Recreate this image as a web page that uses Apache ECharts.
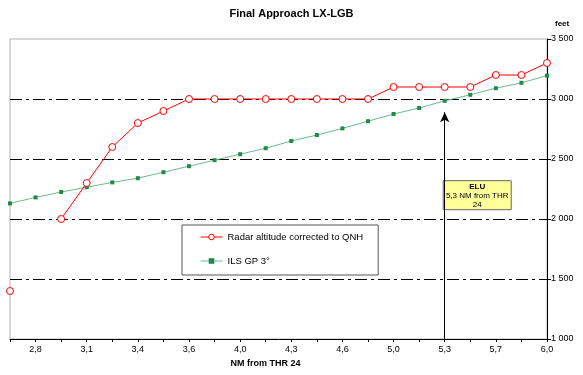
<!DOCTYPE html>
<html>
<head>
<meta charset="utf-8">
<script src="https://cdn.jsdelivr.net/npm/echarts@6/dist/echarts.min.js"></script>
<style>
  html, body { margin: 0; padding: 0; background: #fff; }
  #chart { width: 583px; height: 375px; }
</style>
</head>
<body>
<div id="chart"></div>
<script>
  // distance from threshold (NM), one entry per plotted point
  const distances = ['2,6', '2,8', '2,9', '3,1', '3,2', '3,4', '3,5', '3,6', '3,8', '4,0', '4,1',
    '4,3', '4,5', '4,6', '4,8', '5,0', '5,1', '5,3', '5,5', '5,7', '5,8', '6,0'];

  const radarAlt = [1400, null, 2000, 2300, 2600, 2800, 2900, 3000, 3000, 3000, 3000,
    3000, 3000, 3000, 3000, 3100, 3100, 3100, 3100, 3200, 3200, 3300];

  const ilsGp = [2130, 2180, 2225, 2265, 2305, 2340, 2390, 2440, 2490, 2540, 2590,
    2650, 2700, 2755, 2815, 2875, 2925, 2985, 3035, 3090, 3135, 3195];

  // dash-dot reference lines (the top edge is the plot border)
  const gridLevels = [1500, 2000, 2500, 3000];

  const eluAt = '5,3';
  const eluArrowTop = 2890;
  const eluLines = ['ELU', '5,3 NM from THR', '24'];

  const FONT = 'Liberation Sans, Arial, sans-serif';
  const gridDash = [12, 4, 3, 4];

  const chart = echarts.init(document.getElementById('chart'));

  chart.setOption({
    animation: false,
    backgroundColor: '#fff',
    textStyle: { fontFamily: FONT },
    title: {
      text: 'Final Approach LX-LGB',
      left: 'center',
      top: 3,
      textStyle: { fontSize: 11, fontWeight: 'bold', color: '#000', fontFamily: FONT }
    },
    grid: {
      left: 10, right: 36, top: 39, bottom: 36,
      show: true, borderColor: '#b0b0b0', borderWidth: 1
    },
    legend: {
      orient: 'vertical',
      left: 182, top: 225,
      padding: [7, 15, 9, 18],
      itemGap: 14,
      itemWidth: 22, itemHeight: 7,
      borderColor: '#555', borderWidth: 1,
      backgroundColor: '#fff',
      textStyle: { fontSize: 9.5, color: '#000', fontFamily: FONT },
      data: [
        { name: 'Radar altitude corrected to QNH', itemStyle: { color: '#fff', borderColor: '#ff0000', borderWidth: 1 },
          lineStyle: { width: 1 } },
        { name: 'ILS GP 3°', lineStyle: { width: 1 } }
      ]
    },
    xAxis: {
      type: 'category',
      data: distances,
      boundaryGap: false,
      name: 'NM from THR 24',
      nameLocation: 'middle',
      nameGap: 15,
      nameTextStyle: { fontSize: 9, fontWeight: 'bold', color: '#000', padding: [0, 26, 0, 0] },
      axisLine: { lineStyle: { color: '#000', width: 1 } },
      axisTick: { show: true, interval: 0, length: 3, lineStyle: { color: '#000' } },
      axisLabel: {
        interval: (i) => i % 2 === 1,
        fontSize: 9, color: '#000', margin: 6
      },
      splitLine: { show: false }
    },
    yAxis: {
      type: 'value',
      position: 'right',
      min: 1000, max: 3500, interval: 500,
      name: 'feet',
      nameGap: 11,
      nameTextStyle: { fontSize: 8, fontWeight: 'bold', color: '#000', align: 'left', padding: [0, 0, 0, 8] },
      axisLine: { show: true, lineStyle: { color: '#000', width: 1 } },
      axisTick: { show: true, length: 4, lineStyle: { color: '#000' } },
      axisLabel: {
        fontSize: 9, color: '#000', margin: 4,
        formatter: (v) => String(v).replace(/\B(?=(\d{3})+(?!\d))/g, ' ')
      },
      splitLine: { show: false }
    },
    series: [
      {
        name: 'Radar altitude corrected to QNH',
        type: 'line',
        data: radarAlt,
        connectNulls: false,
        symbol: 'circle',
        symbolSize: 7,
        showAllSymbol: true,
        z: 3,
        itemStyle: { color: '#ffffff', borderColor: '#ff0000', borderWidth: 1 },
        lineStyle: { color: '#ff0000', width: 1 },
        markLine: {
          silent: true,
          symbol: ['none', 'arrow'],
          symbolSize: [7, 10],
          label: { show: false },
          lineStyle: { color: '#000', width: 1, type: 'solid' },
          data: [[{ coord: [eluAt, 1000] }, { coord: [eluAt, eluArrowTop] }]]
        }
      },
      {
        name: 'ILS GP 3°',
        type: 'line',
        data: ilsGp,
        symbol: 'rect',
        symbolSize: 4,
        showAllSymbol: true,
        z: 2,
        itemStyle: { color: '#1f8a4c' },
        lineStyle: { color: '#6dbb8e', width: 1 },
        markLine: {
          silent: true,
          z: 1,
          symbol: ['none', 'none'],
          label: { show: false },
          lineStyle: { color: '#000', width: 1, type: gridDash },
          data: gridLevels.map((v) => ({ yAxis: v }))
        }
      }
    ]
  });

  // ELU label box, anchored to the arrow position
  const p = chart.convertToPixel({ gridIndex: 0 }, [eluAt, 2000]);
  const boxX = p[0] - 2;
  const boxY = chart.convertToPixel({ gridIndex: 0 }, [eluAt, 2490])[1] + 20;
  chart.setOption({
    graphic: [{
      type: 'group',
      left: boxX, top: boxY,
      z: 100,
      children: [
        { type: 'rect', shape: { x: 0, y: 0, width: 68, height: 29 },
          style: { fill: '#ffff99', stroke: '#666', lineWidth: 1 } },
        { type: 'text', x: 34, y: 2,
          style: { text: eluLines[0], fontSize: 8, fontWeight: 'bold', fontFamily: FONT, fill: '#000', align: 'center' } },
        { type: 'text', x: 34, y: 11,
          style: { text: eluLines[1], fontSize: 8, fontFamily: FONT, fill: '#000', align: 'center' } },
        { type: 'text', x: 34, y: 20,
          style: { text: eluLines[2], fontSize: 8, fontFamily: FONT, fill: '#000', align: 'center' } }
      ]
    }]
  });
</script>
</body>
</html>
